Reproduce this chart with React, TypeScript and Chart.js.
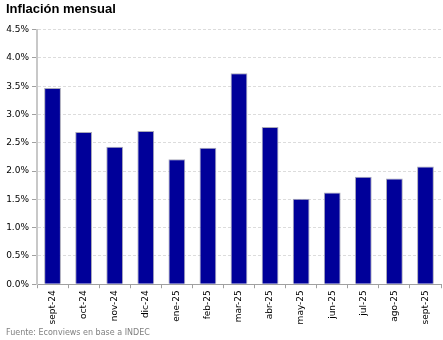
import React, { useEffect, useRef } from "react";
import { Chart, registerables } from "chart.js";

Chart.register(...registerables);

const categories = ["sept-24", "oct-24", "nov-24", "dic-24", "ene-25", "feb-25", "mar-25", "abr-25", "may-25", "jun-25", "jul-25", "ago-25", "sept-25"];
const inflation = [3.47, 2.69, 2.43, 2.71, 2.21, 2.41, 3.73, 2.78, 1.51, 1.62, 1.9, 1.87, 2.08];
const yMin = 0;
const yMax = 4.5;
const yStep = 0.5;
const titleText = "Inflación mensual";
const sourceText = "Fuente: Econviews en base a INDEC";

export default function App() {
  const ref = useRef<HTMLCanvasElement | null>(null);
  useEffect(() => {
    document.body.style.margin = "0";
    const font = "'DejaVu Sans', Verdana, sans-serif";
    const chart = new Chart(ref.current as HTMLCanvasElement, {
      type: "bar",
      data: {
        labels: categories,
        datasets: [
          {
            data: inflation,
            backgroundColor: "#000099",
            borderColor: "#a8a8b8",
            borderWidth: 1,
            barPercentage: 0.54,
            categoryPercentage: 1,
          },
        ],
      },
      options: {
        animation: false,
        responsive: true,
        maintainAspectRatio: false,
        layout: { padding: { left: 6, right: 2, top: 2, bottom: 0 } },
        plugins: {
          legend: { display: false },
          tooltip: { enabled: false },
          title: {
            display: true,
            text: titleText,
            align: "start",
            color: "#000000",
            font: { family: "'Liberation Sans', Arial, sans-serif", size: 13, weight: "bold" },
            padding: { top: 0, bottom: 12 },
          },
          subtitle: {
            display: true,
            position: "bottom",
            text: sourceText,
            align: "start",
            color: "#808080",
            font: { family: font, size: 8 },
            padding: { top: 2, bottom: 2 },
          },
        },
        scales: {
          x: {
            grid: {
              drawOnChartArea: false,
              offset: true,
              tickLength: 4,
              color: "#a0a0a0",
            },
            border: { color: "#a0a0a0", width: 1 },
            ticks: {
              minRotation: 90,
              maxRotation: 90,
              color: "#000000",
              font: { family: font, size: 9 },
              padding: 2,
              autoSkip: false,
            },
          },
          y: {
            min: yMin,
            max: yMax,
            afterFit: (s: any) => {
              s.width = 31;
            },
            grid: {
              color: "#dcdcdc",
              tickLength: 5,
              tickColor: "#a0a0a0",
              tickBorderDash: [],
            } as any,
            border: { color: "#c8c8c8", width: 2, dash: [3, 2] },
            ticks: {
              stepSize: yStep,
              color: "#000000",
              font: { family: font, size: 9 },
              padding: 3,
              callback: (v: any) => Number(v).toFixed(1) + "%",
            },
          },
        },
      },
    });
    return () => chart.destroy();
  }, []);
  return (
    <div style={{ position: "relative", width: 443, height: 340 }}>
      <canvas ref={ref} />
    </div>
  );
}
